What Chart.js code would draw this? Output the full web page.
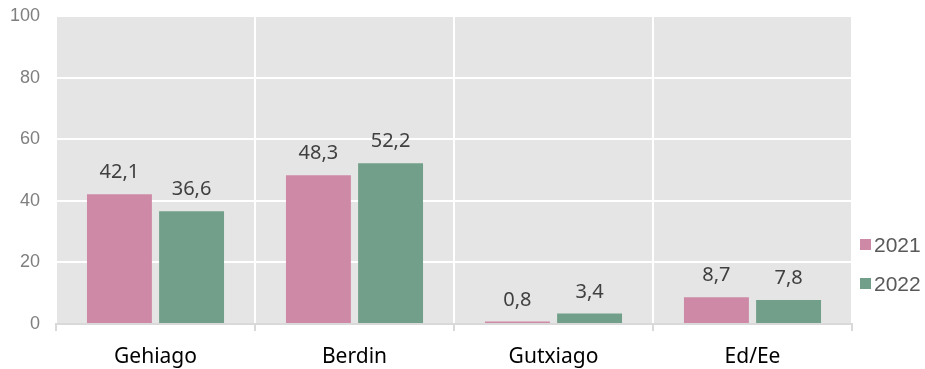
<!DOCTYPE html>
<html>
<head>
<meta charset="utf-8">
<script src="https://cdn.jsdelivr.net/npm/chart.js@4"></script>
<style>
  html, body { margin: 0; padding: 0; background: #ffffff; }
  #wrap { width: 925px; height: 369px; position: relative; }
</style>
</head>
<body>
<div id="wrap"><canvas id="c"></canvas></div>
<script>
const categories = ['Gehiago', 'Berdin', 'Gutxiago', 'Ed/Ee'];
const seriesNames = ['2021', '2022'];
const values2021 = [42.1, 48.3, 0.8, 8.7];
const values2022 = [36.6, 52.2, 3.4, 7.8];
const yTicks = [0, 20, 40, 60, 80, 100];

const colors = ['#ce89a6', '#729f89'];

const fmt = v => v.toFixed(1).replace('.', ',');

// grey plot background
const plotBg = {
  id: 'plotBg',
  beforeDraw(chart) {
    const { ctx, chartArea: a } = chart;
    ctx.save();
    ctx.fillStyle = '#e5e5e5';
    ctx.fillRect(a.left, a.top, a.right - a.left, a.bottom - a.top);
    ctx.restore();
  }
};

// value labels above each bar
const valueLabels = {
  id: 'valueLabels',
  afterDatasetsDraw(chart) {
    const { ctx } = chart;
    ctx.save();
    ctx.font = '20px "Noto Sans", sans-serif';
    ctx.fillStyle = '#404040';
    ctx.textAlign = 'center';
    ctx.textBaseline = 'alphabetic';
    chart.data.datasets.forEach((ds, i) => {
      chart.getDatasetMeta(i).data.forEach((bar, j) => {
        ctx.fillText(fmt(ds.data[j]), bar.x, bar.y - 16);
      });
    });
    ctx.restore();
  }
};

// legend at the right side
const sideLegend = {
  id: 'sideLegend',
  afterDraw(chart) {
    const { ctx } = chart;
    ctx.save();
    ctx.font = '21px "Liberation Sans", Arial, sans-serif';
    ctx.textBaseline = 'alphabetic';
    ctx.textAlign = 'left';
    const x = 860, ys = [244, 283];
    chart.data.datasets.forEach((ds, i) => {
      ctx.fillStyle = ds.backgroundColor;
      ctx.fillRect(x, ys[i] - 5, 11, 11);
      ctx.fillStyle = '#595959';
      ctx.fillText(ds.label, x + 14, ys[i] + 8);
    });
    ctx.restore();
  }
};

new Chart(document.getElementById('c'), {
  type: 'bar',
  data: {
    labels: categories,
    datasets: [
      { label: seriesNames[0], data: values2021, backgroundColor: colors[0] },
      { label: seriesNames[1], data: values2022, backgroundColor: colors[1] }
    ]
  },
  options: {
    responsive: true,
    maintainAspectRatio: false,
    animation: false,
    devicePixelRatio: 1,
    layout: { padding: { left: 0, right: 73, top: 16, bottom: 0 } },
    datasets: { bar: { barPercentage: 0.9, categoryPercentage: 0.725 } },
    plugins: {
      legend: { display: false },
      tooltip: { enabled: false }
    },
    scales: {
      x: {
        afterFit(axis) { axis.height = 45; },
        grid: {
          offset: true,
          color: '#ffffff',
          lineWidth: 2,
          tickColor: '#d9d9d9',
          tickLength: 7,
          drawTicks: true
        },
        border: { color: '#d9d9d9', width: 2 },
        ticks: {
          color: '#000000',
          font: { family: '"Noto Sans", sans-serif', size: 21 },
          padding: 13
        }
      },
      y: {
        min: 0,
        max: 100,
        afterBuildTicks(axis) { axis.ticks = yTicks.map(v => ({ value: v })); },
        afterFit(axis) {
          axis.width = 56;
          axis.paddingTop = 0;
          axis.paddingBottom = 0;
        },
        grid: { color: '#ffffff', lineWidth: 2, drawTicks: false },
        border: { display: false },
        ticks: {
          color: '#7f7f7f',
          font: { family: '"Liberation Sans", Arial, sans-serif', size: 18 },
          padding: 16
        }
      }
    }
  },
  plugins: [plotBg, valueLabels, sideLegend]
});
</script>
</body>
</html>
